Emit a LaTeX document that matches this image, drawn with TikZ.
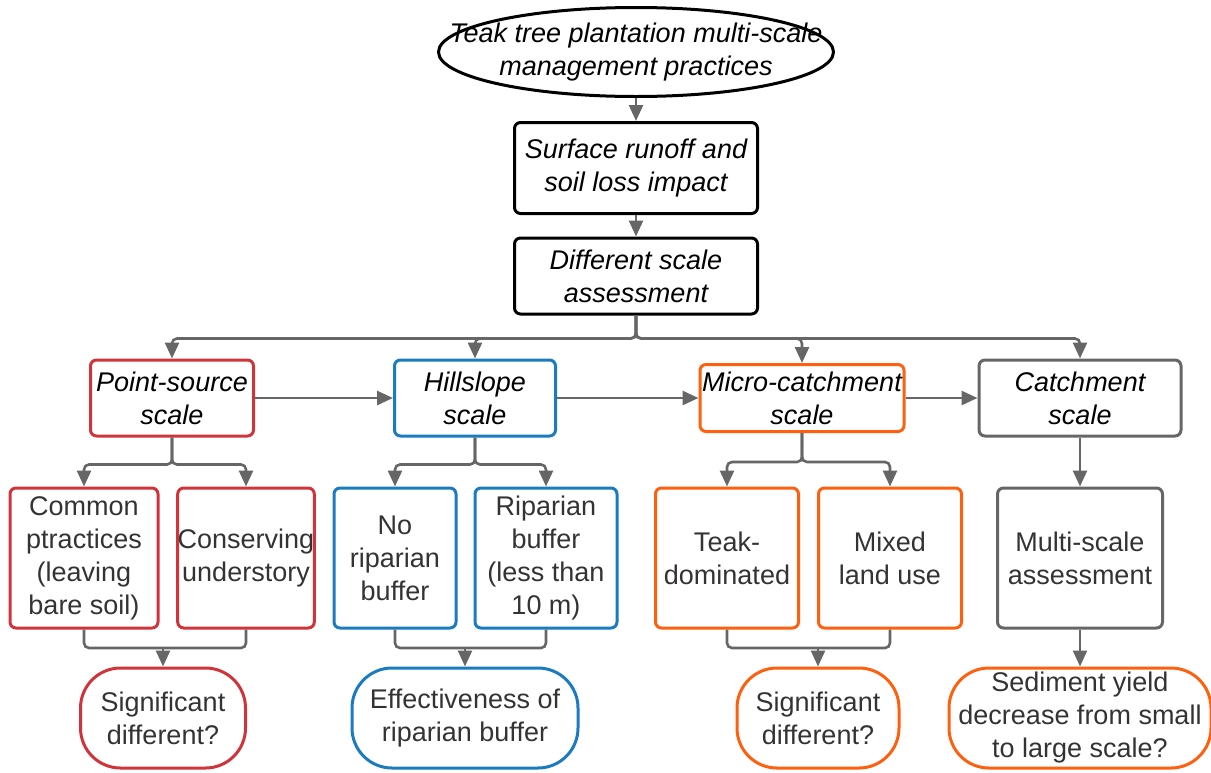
\documentclass[tikz,border=0pt]{standalone}
\usepackage{fontspec}
\setmainfont{Liberation Sans}
\usetikzlibrary{positioning,arrows.meta,shapes.geometric}
\definecolor{ptred}{HTML}{D0343A}
\definecolor{hsblue}{HTML}{1A7BBF}
\definecolor{mcorange}{HTML}{FF6010}
\definecolor{lkgray}{HTML}{666666}
\definecolor{txtgray}{HTML}{333333}
\newcommand{\lbl}{\fontsize{13.5}{16.5}\selectfont}

\begin{document}
\begin{tikzpicture}[x=0.5pt,y=-0.5pt,
	every node/.style={inner sep=0pt, align=center, font=\lbl},
	hdbox/.style={draw, rounded corners=3pt, line width=1.5pt, font=\lbl\itshape},
	itembox/.style={draw, rounded corners=3pt, line width=1.5pt, text=txtgray, minimum height=70pt},
	qoval/.style={draw, rounded corners=20pt, line width=1.5pt, text=txtgray, minimum height=50pt},
	lnk/.style={draw=lkgray, line width=1.3pt, rounded corners=2.5pt},
	arr/.style={lnk, -{Triangle[length=8pt,width=7pt]}, lkgray}]
	\useasboundingbox (0,0) rectangle (1211,772);
	\node[ellipse, draw, line width=1.5pt, font=\lbl\itshape, inner xsep=-25pt, inner ysep=-5pt, minimum width=197.5pt, minimum height=44.5pt] (top) at (636,52) {Teak tree plantation multi-scale\\management practices};
	\node[hdbox, minimum width=121.5pt, minimum height=45.5pt] (impact) at (636,168) {Surface runoff and\\soil loss impact};
	\node[hdbox, minimum width=121.5pt, minimum height=38pt] (assess) at (636,276) {Different scale\\assessment};
	\node[hdbox, draw=ptred, minimum width=81.5pt, minimum height=38pt] (point) at (172,398) {Point-source\\scale};
	\node[hdbox, draw=hsblue, minimum width=80.5pt, minimum height=38pt] (hill) at (475,398) {Hillslope\\scale};
	\node[hdbox, draw=mcorange, minimum width=102pt, minimum height=33.5pt] (micro) at (802,398) {Micro-catchment\\scale};
	\node[hdbox, draw=lkgray, minimum width=101pt, minimum height=38pt] (catch) at (1080,398) {Catchment\\scale};
	\node[itembox, draw=ptred, minimum width=74pt] (common) at (84,558) {Common\\ptractices\\(leaving\\bare soil)};
	\node[itembox, draw=ptred, minimum width=68pt] (conserv) at (246,558) {Conserving\\understory};
	\node[itembox, draw=hsblue, minimum width=61pt] (norip) at (395,558) {No\\riparian\\buffer};
	\node[itembox, draw=hsblue, minimum width=71pt] (rip) at (546,558) {Riparian\\buffer\\(less than\\10 m)};
	\node[itembox, draw=mcorange, minimum width=71.5pt] (teak) at (727,558) {Teak-\\dominated};
	\node[itembox, draw=mcorange, minimum width=71.5pt] (mixed) at (890,558) {Mixed\\land use};
	\node[itembox, draw=lkgray, minimum width=82.5pt] (multi) at (1080,558) {Multi-scale\\assessment};
	\node[qoval, draw=ptred, minimum width=82.5pt] (sigpt) at (163,718) {Significant\\different?};
	\node[qoval, draw=hsblue, minimum width=113pt] (effect) at (465,718) {Effectiveness of\\riparian buffer};
	\node[qoval, draw=mcorange, minimum width=81pt] (sigmc) at (818,718) {Significant\\different?};
	\node[qoval, draw=mcorange, minimum width=131pt] (sediment) at (1080,718) {Sediment yield\\decrease from small\\to large scale?};
	\coordinate (jpt) at (163,648);
	\coordinate (jhs) at (465,648);
	\coordinate (jmc) at (818,648);
	\draw[arr] (top) -- (impact);
	\draw[arr] (impact) -- (assess);
	\foreach \n in {point,hill,micro,catch}
		\draw[arr] (assess.south) -- ++(0,23) -| (\n);
	\draw[arr] (point) -- (hill);
	\draw[arr] (hill) -- (micro);
	\draw[arr] (micro) -- (catch);
	\foreach \n in {common,conserv}
		\draw[arr] (point.south) -- ++(0,27) -| (\n);
	\foreach \n in {norip,rip}
		\draw[arr] (hill.south) -- ++(0,27) -| (\n);
	\foreach \n in {teak,mixed}
		\draw[arr] (micro.south) -- ++(0,29) -| (\n);
	\draw[arr] (catch) -- (multi);
	\draw[lnk] (common.south) |- (jpt) -| (conserv.south);
	\draw[lnk] (norip.south) |- (jhs) -| (rip.south);
	\draw[lnk] (teak.south) |- (jmc) -| (mixed.south);
	\draw[arr] (jpt) -- (sigpt);
	\draw[arr] (jhs) -- (effect);
	\draw[arr] (jmc) -- (sigmc);
	\draw[arr] (multi) -- (sediment);
\end{tikzpicture}
\end{document}
